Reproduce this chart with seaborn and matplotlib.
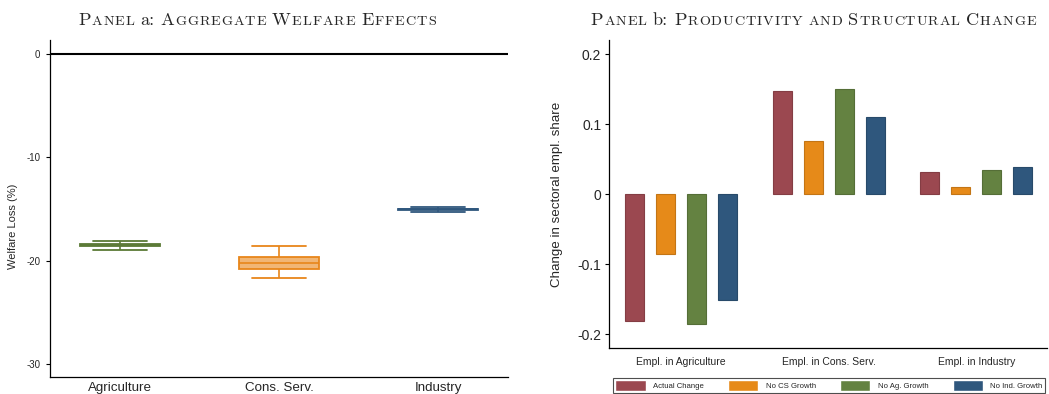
import numpy as np
import pandas as pd
import matplotlib
matplotlib.use("Agg")
import matplotlib.pyplot as plt
import matplotlib.ticker as mticker
from matplotlib.colors import to_rgba
from matplotlib.text import Annotation
import seaborn as sns

# ---- Panel a: welfare loss distribution by sector (box statistics) ----
sectors = ["Agriculture", "Cons. Serv.", "Industry"]
sector_colors = ["#5b7a36", "#e8861a", "#2f577d"]
welfare_low = [-18.94, -21.65, -15.30]
welfare_q1 = [-18.60, -20.80, -15.12]
welfare_median = [-18.48, -20.26, -15.04]
welfare_q3 = [-18.36, -19.68, -14.96]
welfare_high = [-18.07, -18.60, -14.78]

# ---- Panel b: change in sectoral employment shares ----
groups = ["Empl. in Agriculture", "Empl. in Cons. Serv.", "Empl. in Industry"]
scenarios = ["Actual Change", "No CS Growth", "No Ag. Growth", "No Ind. Growth"]
scenario_colors = ["#9b4850", "#e68a19", "#648241", "#2f577d"]
actual_change = [-0.181, 0.148, 0.032]
no_cs_growth = [-0.086, 0.076, 0.010]
no_ag_growth = [-0.185, 0.150, 0.035]
no_ind_growth = [-0.151, 0.111, 0.039]

sns.set_theme(style="white")
plt.rcParams["font.family"] = ["Liberation Sans", "DejaVu Sans"]

W, H = 1049, 394
fig = plt.figure(figsize=(W / 100, H / 100), dpi=100)
ax1 = fig.add_axes([50 / W, 17 / H, 458 / W, 337 / H])
ax2 = fig.add_axes([609 / W, 45.7 / H, 438 / W, 308.3 / H])

# ---------------- Panel a ----------------
welfare = pd.DataFrame({
    "sector": np.repeat(sectors, 5),
    "loss": np.column_stack(
        [welfare_low, welfare_q1, welfare_median, welfare_q3, welfare_high]
    ).ravel(),
})
sns.boxplot(
    data=welfare, x="sector", y="loss", hue="sector",
    order=sectors, hue_order=sectors, palette=sector_colors,
    width=0.5, whis=(0, 100), saturation=1, legend=False,
    linewidth=1.2, ax=ax1,
)
for cont, color in zip(ax1.containers, sector_colors):
    for box in cont.boxes:
        box.set_facecolor(to_rgba(color, 0.6))
        box.set_edgecolor(color)
        box.set_linewidth(1.3)
    for line in [*cont.whiskers, *cont.medians]:
        line.set_color(color)
        line.set_linewidth(1.2)
    for cap in cont.caps:
        xs = cap.get_xdata()
        mid = 0.5 * (xs[0] + xs[1])
        cap.set_xdata([mid - 0.17, mid + 0.17])
        cap.set_color(color)
        cap.set_linewidth(1.3)

ax1.axhline(0, color="black", lw=1.5, zorder=3)
ax1.set_xlim(-0.44, 2.44)
ax1.set_ylim(-31.27, 1.36)
ax1.set_yticks([0, -10, -20, -30])
ax1.yaxis.set_major_formatter(mticker.FuncFormatter(lambda v, p: f"{v:g}"))
ax1.set_xlabel("")
ax1.set_ylabel("Welfare Loss (%)", fontsize=8)
ax1.yaxis.set_label_coords(-0.07, 0.448)
ax1.tick_params(axis="y", length=3, width=0.8, color="black", pad=4,
                labelsize=7, left=True)
ax1.tick_params(axis="x", length=0, pad=3.6, labelsize=9.6)

# ---------------- Panel b ----------------
emp = pd.DataFrame({
    "group": np.tile(groups, len(scenarios)),
    "scenario": np.repeat(scenarios, len(groups)),
    "change": np.concatenate([actual_change, no_cs_growth, no_ag_growth, no_ind_growth]),
})
sns.barplot(
    data=emp, x="group", y="change", hue="scenario",
    order=groups, hue_order=scenarios, palette=scenario_colors,
    saturation=1, width=0.84, gap=0.386, errorbar=None, ax=ax2,
)
for cont, color in zip(ax2.containers, scenario_colors):
    r, g, b, _ = to_rgba(color)
    for bar in cont:
        bar.set_edgecolor((r * 0.85, g * 0.85, b * 0.85))
        bar.set_linewidth(0.8)

handles, labels = ax2.get_legend_handles_labels()
if ax2.get_legend() is not None:
    ax2.get_legend().remove()

ax2.set_xlim(-0.49, 2.478)
ax2.set_ylim(-0.22, 0.2204)
ax2.set_yticks([-0.2, -0.1, 0, 0.1, 0.2])
ax2.yaxis.set_major_formatter(mticker.FuncFormatter(lambda v, p: f"{v:g}"))
ax2.set_xlabel("")
ax2.set_ylabel("Change in sectoral empl. share", fontsize=9.6)
ax2.yaxis.set_label_coords(-0.106, 0.5)
ax2.tick_params(axis="y", length=3, width=0.8, color="black", pad=2.5,
                labelsize=10, left=True)
ax2.tick_params(axis="x", length=0, pad=6.5, labelsize=7.5)

for ax in (ax1, ax2):
    sns.despine(ax=ax)
    for side in ("left", "bottom"):
        ax.spines[side].set_color("black")
        ax.spines[side].set_linewidth(0.9)

fig.legend(
    handles, labels, loc="lower left",
    bbox_to_anchor=(613 / W, 1 / H, 432 / W, 18 / H),
    mode="expand", ncol=4, fontsize=5.6, frameon=True, fancybox=False,
    edgecolor="#222222", handlelength=3.9, handleheight=1.7,
    handletextpad=0.95, borderpad=0.3, borderaxespad=0,
)
fig.legends[0].get_frame().set_linewidth(0.8)


# ---------------- Small-caps panel titles ----------------
def small_caps_title(text, plain_words, x_center_px, baseline_px,
                     big=13.2, small=10.2, tracking=0.7, family="cmr10"):
    space = 0.333 * big
    runs = []  # (string, fontsize, offset before it in points)
    for i, word in enumerate(text.split(" ")):
        lead = space if i else 0.0
        if word in plain_words:
            runs.append((word, big, lead))
            continue
        for j, ch in enumerate(word):
            size = small if ch.islower() else big
            runs.append((ch.upper(), size, lead if j == 0 else tracking))

    yb = 1 - baseline_px / H
    first = fig.text(0, yb, runs[0][0], fontsize=runs[0][1], family=family,
                     ha="left", va="baseline")
    prev = first
    for s, size, lead in runs[1:]:
        ann = Annotation(
            s, xy=(1, yb), xycoords=(prev, "figure fraction"),
            xytext=(lead, 0), textcoords="offset points",
            fontsize=size, family=family, ha="left", va="baseline",
        )
        fig.add_artist(ann)
        prev = ann
    fig.canvas.draw()
    r = fig.canvas.get_renderer()
    width = prev.get_window_extent(r).x1 - first.get_window_extent(r).x0
    first.set_x((x_center_px - width / 2) / W)


small_caps_title("Panel a: Aggregate Welfare Effects", {"a:"}, 257, 25)
small_caps_title("Panel b: Productivity and Structural Change", {"b:"}, 813.5, 25)

fig.savefig("out.png", dpi=100)
